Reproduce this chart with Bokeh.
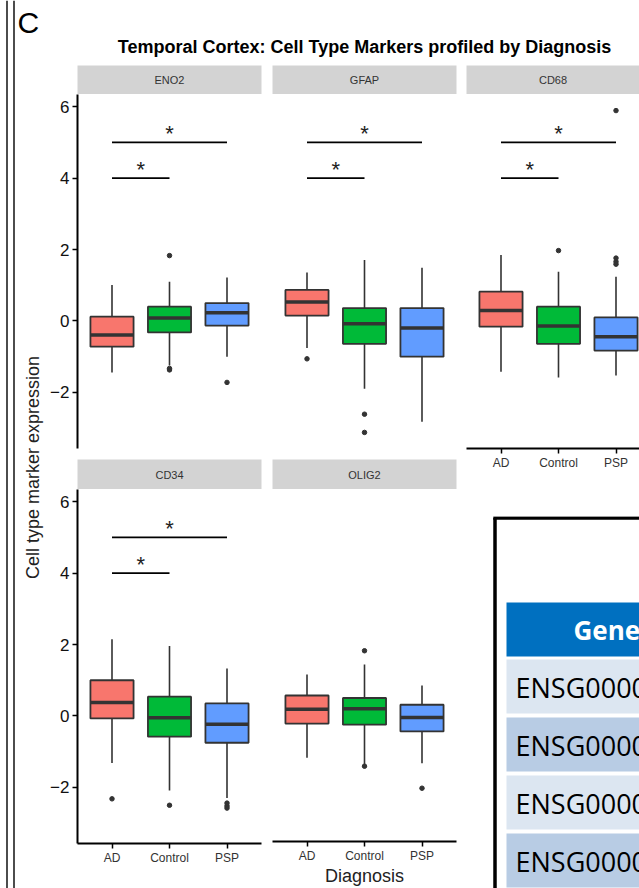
import math
from bokeh.plotting import figure
from bokeh.models import Range1d, FixedTicker, Span
from bokeh.layouts import row, column
from bokeh.core.properties import value
from bokeh.embed import file_html
from bokeh.resources import INLINE

# ---------------- data ----------------
panel_letter = "C"
title_text = "Temporal Cortex: Cell Type Markers profiled by Diagnosis"
y_label = "Cell type marker expression"
x_label = "Diagnosis"

markers = ["ENO2", "GFAP", "CD68", "CD34", "OLIG2"]
diagnoses = ["AD", "Control", "PSP"]
colors = ["#F8766D", "#00BA38", "#619CFF"]

whisker_low = {
    "ENO2": [-1.44, -1.25, -1.00],
    "GFAP": [-0.76, -1.90, -2.82],
    "CD68": [-1.42, -1.58, -1.53],
    "CD34": [-1.32, -2.09, -2.30],
    "OLIG2": [-1.21, -1.42, -1.37],
}
q1 = {
    "ENO2": [-0.72, -0.32, -0.13],
    "GFAP": [0.15, -0.64, -1.00],
    "CD68": [-0.16, -0.64, -0.83],
    "CD34": [-0.07, -0.58, -0.75],
    "OLIG2": [-0.25, -0.28, -0.47],
}
median = {
    "ENO2": [-0.39, 0.08, 0.23],
    "GFAP": [0.53, -0.08, -0.20],
    "CD68": [0.29, -0.14, -0.44],
    "CD34": [0.38, -0.05, -0.23],
    "OLIG2": [0.15, 0.17, -0.08],
}
q3 = {
    "ENO2": [0.12, 0.40, 0.50],
    "GFAP": [0.87, 0.36, 0.36],
    "CD68": [0.82, 0.40, 0.10],
    "CD34": [1.00, 0.54, 0.35],
    "OLIG2": [0.54, 0.47, 0.28],
}
whisker_high = {
    "ENO2": [1.01, 1.10, 1.22],
    "GFAP": [1.36, 1.71, 1.49],
    "CD68": [1.85, 1.38, 1.24],
    "CD34": [2.15, 1.96, 1.33],
    "OLIG2": [1.13, 1.41, 0.82],
}
outliers = {
    "ENO2": [[], [1.83, -1.33, -1.37], [-1.72]],
    "GFAP": [[-1.06], [-2.61, -3.12], []],
    "CD68": [[], [1.97], [1.59, 1.66, 1.76, 5.89]],
    "CD34": [[-2.32], [-2.50], [-2.44, -2.52, -2.58]],
    "OLIG2": [[], [1.80, -1.45], [-2.07]],
}
sig_pairs = {
    "ENO2": [("AD", "Control"), ("AD", "PSP")],
    "GFAP": [("AD", "Control"), ("AD", "PSP")],
    "CD68": [("AD", "Control"), ("AD", "PSP")],
    "CD34": [("AD", "Control"), ("AD", "PSP")],
    "OLIG2": [],
}
sig_heights = [4.0, 5.0]
sig_labels = ["*", "*"]
y_ticks = [-2, 0, 2, 4, 6]

table_header = "Gene"
table_ids = ["ENSG00000111674", "ENSG00000131095", "ENSG00000129226", "ENSG00000174059"]
table_row_colors = ["#DCE6F1", "#B8CCE4", "#DCE6F1", "#B8CCE4"]

# ---------------- style / layout ----------------
FONT = "Liberation Sans"
TABLE_FONT = "Open Sans"
EDGE = "#333333"
STRIP_BG = "#D3D3D3"
PANEL_W, PANEL_H = 184, 354
COL3_W = 173
LEFT_AX = 31
GAP1, GAP2 = 11, 10
X_UNITS = 3.2  # discrete scale: 0.4 .. 3.6

all_vals = []
for m in markers:
    all_vals += whisker_low[m] + whisker_high[m]
    for o in outliers[m]:
        all_vals += o
dmin, dmax = min(all_vals), max(all_vals)
pad = 0.05 * (dmax - dmin)
Y_LO, Y_HI = dmin - pad, dmax + pad


def base_fig(width, height, xr, yr, **kw):
    p = figure(width=width, height=height, x_range=xr, y_range=yr,
               output_backend="svg", toolbar_location=None,
               x_axis_location=kw.pop("x_axis_location", None),
               y_axis_location=kw.pop("y_axis_location", None),
               min_border=0, **kw)
    p.outline_line_color = None
    p.background_fill_color = "white"
    p.border_fill_color = "white"
    p.grid.visible = False
    return p


def style_axis(ax, size):
    ax.axis_line_width = 2
    ax.axis_line_color = "black"
    ax.major_tick_line_width = 1.5
    ax.major_tick_line_color = "black"
    ax.major_tick_out = 5
    ax.major_tick_in = 0
    ax.minor_tick_out = 0
    ax.minor_tick_in = 0
    ax.major_label_text_font = FONT
    ax.major_label_text_font_size = size
    ax.major_label_text_color = "#111111"


def make_panel(m, width, height, mbl, mbr, mbb, show_x, show_y, frame_w, xlab=None):
    x_end = 0.4 + X_UNITS * frame_w / PANEL_W
    p = base_fig(width, height, Range1d(0.4, x_end), Range1d(Y_LO, Y_HI),
                 x_axis_location="below" if show_x else None,
                 y_axis_location="left" if show_y else None,
                 min_border_left=mbl, min_border_right=mbr,
                 min_border_bottom=mbb, min_border_top=0)
    xs = [i + 1 for i in range(len(diagnoses))]
    bw = 0.75
    p.segment(x0=xs, y0=q3[m], x1=xs, y1=whisker_high[m], line_color=EDGE, line_width=1.6)
    p.segment(x0=xs, y0=q1[m], x1=xs, y1=whisker_low[m], line_color=EDGE, line_width=1.6)
    p.vbar(x=xs, width=bw, bottom=q1[m], top=q3[m], fill_color=colors,
           line_color=EDGE, line_width=1.8)
    p.segment(x0=[x - bw / 2 for x in xs], y0=median[m], x1=[x + bw / 2 for x in xs],
              y1=median[m], line_color=EDGE, line_width=3.5)
    ox, oy = [], []
    for x, vals in zip(xs, outliers[m]):
        ox += [x] * len(vals)
        oy += vals
    p.scatter(x=ox, y=oy, size=4.5, color=EDGE)
    pairs = sig_pairs[m]
    if pairs:
        x0 = [diagnoses.index(a) + 1 for a, b in pairs]
        x1 = [diagnoses.index(b) + 1 for a, b in pairs]
        hs = sig_heights[:len(pairs)]
        p.segment(x0=x0, y0=hs, x1=x1, y1=hs, line_color="black", line_width=1.6)
        p.text(x=[(a + b) / 2 for a, b in zip(x0, x1)], y=[h + 0.24 for h in hs],
               text=sig_labels[:len(pairs)], text_align="center", text_baseline="middle",
               text_font=value(FONT), text_font_size="22px", text_color="#222222")
    if show_y:
        ax = p.yaxis[0]
        ax.ticker = FixedTicker(ticks=y_ticks)
        ax.major_label_overrides = {t: str(t).replace("-", "\u2212") for t in y_ticks}
        style_axis(ax, "17px")
        ax.major_label_standoff = 3
    if show_x:
        ax = p.xaxis[0]
        ax.ticker = FixedTicker(ticks=xs)
        ax.major_label_overrides = {x: d for x, d in zip(xs, diagnoses)}
        style_axis(ax, "12px")
        ax.major_label_text_color = "#333333"
        ax.major_label_standoff = 2
        if xlab:
            ax.axis_label = xlab
            ax.axis_label_text_font = FONT
            ax.axis_label_text_font_size = "18px"
            ax.axis_label_text_font_style = "normal"
            ax.axis_label_text_color = "#222222"
            ax.axis_label_standoff = 0
    return p


def make_strip(label, width, height, mbl, mbr):
    s = base_fig(width, height, Range1d(0, 1), Range1d(0, 1),
                 min_border_left=mbl, min_border_right=mbr)
    s.background_fill_color = STRIP_BG
    s.text(x=[0.5], y=[0.5], text=[label], text_align="center", text_baseline="middle",
           text_font=value(FONT), text_font_size="11px", text_color="#333333")
    return s


# left double lines
lines_fig = base_fig(16, 888, Range1d(0, 16), Range1d(0, 888))
for loc in (6.5, 13.5):
    lines_fig.add_layout(Span(location=loc, dimension="height", line_color="black", line_width=1.4))

# header (panel letter + title)
header = base_fig(623, 65, Range1d(0, 623), Range1d(0, 65))
header.text(x=[1], y=[43.5], text=[panel_letter], text_align="left", text_baseline="middle",
            text_font=value(FONT), text_font_size="30px", text_color="black")
header.text(x=[348], y=[19], text=[title_text], text_align="center", text_baseline="middle",
            text_font=value(FONT), text_font_size="18px", text_font_style="bold", text_color="black")

# y axis title
ylab = base_fig(30, 823, Range1d(0, 30), Range1d(0, 823))
ylab.text(x=[16], y=[421], text=[y_label], angle=math.pi / 2, text_align="center",
          text_baseline="middle", text_font=value(FONT), text_font_size="18px", text_color="#222222")

# column 1
c1 = column(
    make_strip(markers[0], LEFT_AX + PANEL_W + GAP1, 29, LEFT_AX, GAP1),
    make_panel(markers[0], LEFT_AX + PANEL_W + GAP1, PANEL_H + 11, LEFT_AX, GAP1, 11, False, True, PANEL_W),
    make_strip(markers[3], LEFT_AX + PANEL_W + GAP1, 30, LEFT_AX, GAP1),
    make_panel(markers[3], LEFT_AX + PANEL_W + GAP1, PANEL_H + 45, LEFT_AX, GAP1, 45, True, True, PANEL_W),
)
# column 2
c2 = column(
    make_strip(markers[1], PANEL_W + GAP2, 29, 0, GAP2),
    make_panel(markers[1], PANEL_W + GAP2, PANEL_H + 11, 0, GAP2, 11, False, False, PANEL_W),
    make_strip(markers[4], PANEL_W + GAP2, 30, 0, GAP2),
    make_panel(markers[4], PANEL_W + GAP2, PANEL_H + 45, 0, GAP2, 45, True, False, PANEL_W, xlab=x_label),
)

# table (partially visible)
TBL_H = 372
tbl = base_fig(COL3_W, TBL_H, Range1d(0, COL3_W), Range1d(TBL_H, 0))
HEADER_TOP, HEADER_H, ROW_TOP, ROW_PITCH, ROW_H = 86, 54, 143, 58, 54
CELL_L = 40
tbl.quad(left=[CELL_L], right=[COL3_W + 200], top=[HEADER_TOP], bottom=[HEADER_TOP + HEADER_H],
         fill_color="#0070C0", line_color=None)
tbl.text(x=[107], y=[HEADER_TOP + HEADER_H / 2], text=[table_header], text_align="left",
         text_baseline="middle", text_font=value(TABLE_FONT), text_font_size="26px",
         text_font_style="bold", text_color="white")
tops = [ROW_TOP + i * ROW_PITCH for i in range(len(table_ids))]
tbl.quad(left=[CELL_L] * len(tops), right=[COL3_W + 200] * len(tops), top=tops,
         bottom=[t + ROW_H for t in tops], fill_color=table_row_colors, line_color=None)
tbl.text(x=[49] * len(tops), y=[t + ROW_H / 2 + 1 for t in tops], text=table_ids, text_align="left",
         text_baseline="middle", text_font=value(TABLE_FONT), text_font_size="27px", text_color="black")
tbl.segment(x0=[28.5, 26.8], y0=[1.5, 1.5], x1=[28.5, COL3_W + 10], y1=[TBL_H + 10, 1.5],
            line_color="black", line_width=3.5)

c3 = column(
    make_strip(markers[2], COL3_W, 29, 0, 0),
    make_panel(markers[2], COL3_W, PANEL_H + 68, 0, 0, 68, True, False, COL3_W),
    tbl,
)

root = row(lines_fig, column(header, row(ylab, c1, c2, c3)))
open("out.html", "w").write(file_html(root, INLINE))
